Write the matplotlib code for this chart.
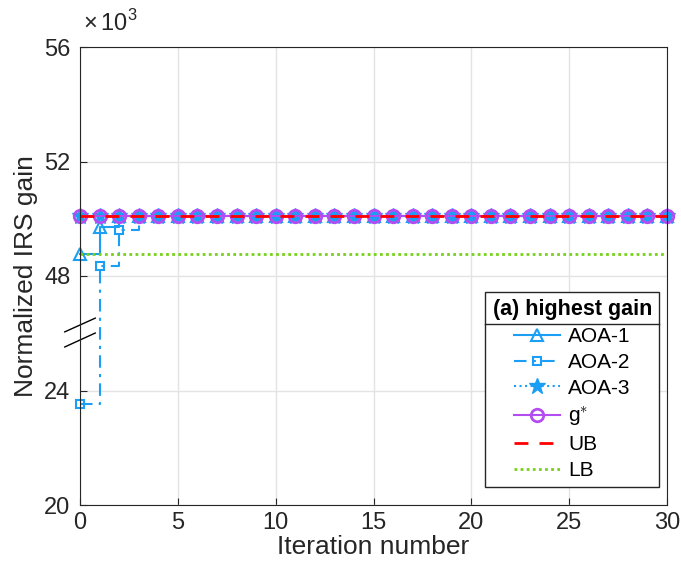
import numpy as np
import matplotlib
matplotlib.use("Agg")
import matplotlib.pyplot as plt
from matplotlib.lines import Line2D

plt.rcParams["font.family"] = ["Liberation Sans", "DejaVu Sans"]
plt.rcParams["mathtext.fontset"] = "custom"
plt.rcParams["mathtext.rm"] = "Liberation Sans"

# data (values in units of 10^3)
iters = list(range(31))
aoa1 = [48.77, 49.72] + [50.1] * 29
aoa2 = [23.53, 48.35, 49.6] + [50.1] * 28
aoa3 = [50.1] * 31
gstar = [50.1] * 31
ub = 50.1
lb = 48.77

yticks = [20, 24, 48, 52, 56]
xticks = [0, 5, 10, 15, 20, 25, 30]

blue = "#1A9FF5"
purple = "#B34DF2"
red = "#FF0000"
green = "#77D11A"
ink = "#262626"


def fwd(y):
    y = np.asarray(y, dtype=float)
    return np.where(y <= 24, (y - 20) / 4,
                    np.where(y < 48, 1 + (y - 24) / 24, 2 + (y - 48) / 4))


def inv(p):
    p = np.asarray(p, dtype=float)
    return np.where(p <= 1, 20 + 4 * p,
                    np.where(p < 2, 24 + 24 * (p - 1), 48 + 4 * (p - 2)))


fig = plt.figure(figsize=(6.81, 5.73), dpi=100)
ax = fig.add_axes([80 / 681, 1 - 505 / 573, 587 / 681, 458 / 573])
ax.set_yscale("function", functions=(fwd, inv))

ax.step(iters, aoa1, where="post", color=blue, lw=1.5, marker="^", ms=9,
        mfc="none", mew=1.5, label="AOA-1", clip_on=False)
ax.step(iters, aoa2, where="post", color=blue, lw=1.5, ls=(0, (6, 3, 1.5, 3)),
        marker="s", ms=6, mfc="none", mew=1.5, label="AOA-2", clip_on=False)
ax.step(iters, aoa3, where="post", color=blue, lw=1.5, ls=":", marker="*",
        ms=12, label="AOA-3", clip_on=False)
ax.plot(iters, gstar, color=purple, lw=1.5, marker="o", ms=9, mfc="none",
        mew=2, label=r"g$^{\ast}$", clip_on=False)
ax.axhline(ub, color=red, lw=2, ls=(0, (5, 4)), label="UB")
ax.axhline(lb, color=green, lw=2, ls=(0, (1, 1.2)), label="LB")

ax.set_xlim(0, 30)
ax.set_ylim(20, 56)
ax.set_xticks(xticks)
ax.set_yticks(yticks)
ax.set_yticklabels([str(v) for v in yticks])
ax.tick_params(direction="in", labelsize=17, length=5, color=ink,
               labelcolor=ink, top=False, right=False)
ax.tick_params(axis="y", pad=7)
ax.tick_params(axis="x", pad=5)
ax.grid(True, color="#E3E3E3", lw=1)
ax.set_axisbelow(True)
for s in ax.spines.values():
    s.set_color(ink)

ax.set_xlabel("Iteration number", fontsize=19, color=ink, labelpad=1)
ax.set_ylabel("Normalized IRS gain", fontsize=19, color=ink, labelpad=4)
ax.text(0.005, 1.025, r"$\times\,10^{3}$", transform=ax.transAxes, fontsize=17,
        color=ink, ha="left", va="bottom")

# axis break marks
for y0, y1 in [(0.378, 0.408), (0.345, 0.3755)]:
    ax.add_line(Line2D([-0.026, 0.026], [y0, y1], transform=ax.transAxes,
                       color="black", lw=1, clip_on=False))

leg = ax.legend(loc="lower right", bbox_to_anchor=(0.994, 0.03), fontsize=15,
                title="(a) highest gain",
                title_fontproperties={"weight": "bold", "size": 15.5},
                frameon=True, fancybox=False, edgecolor=ink, framealpha=1,
                handlelength=2.2, handletextpad=0.4, labelspacing=0.33,
                borderpad=0.35, borderaxespad=0.2)
leg.get_frame().set_linewidth(1)

fig.canvas.draw()
tb = leg.get_title().get_window_extent()
fb = leg.get_frame().get_window_extent()
inv_t = fig.transFigure.inverted()
ysep = tb.y0 - 4
(x0, yy), (x1, _) = inv_t.transform([(fb.x0, ysep), (fb.x1, ysep)])
fig.add_artist(Line2D([x0, x1], [yy, yy], transform=fig.transFigure,
                      color=ink, lw=1))

fig.savefig("out.png", dpi=100)
